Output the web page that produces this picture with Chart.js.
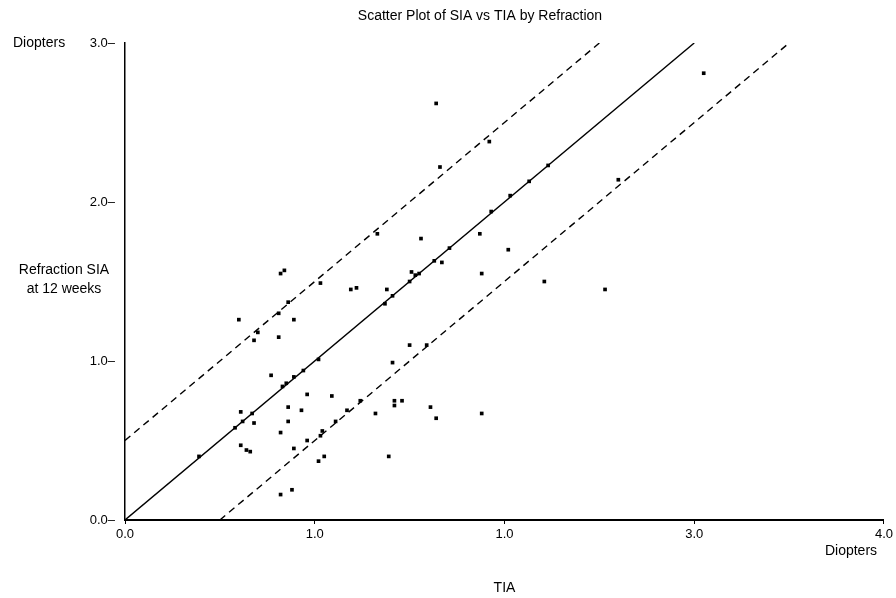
<!DOCTYPE html>
<html>
<head>
<meta charset="utf-8">
<title>Scatter Plot of SIA vs TIA by Refraction</title>
<script src="https://cdn.jsdelivr.net/npm/chart.js@4.4.1/dist/chart.umd.min.js"></script>
<style>
    html, body { margin: 0; padding: 0; background: #fff; }
    canvas { display: block; }
</style>
</head>
<body>
<canvas id="siaChart" width="896" height="598"></canvas>
<script>
/* ================================
   Data
================================ */
const tiaValues = [
    0.39, 0.60, 0.61, 0.62, 0.67, 0.68, 0.58, 0.61, 0.64, 0.66,
    0.68, 0.70, 0.77, 0.81, 0.81, 0.82, 0.84, 0.86, 0.89,
    0.83, 0.85, 0.89, 0.94, 1.02,
    0.86, 0.96, 1.09, 0.93, 0.86, 0.82, 0.89, 0.96, 1.04, 1.03,
    1.11, 1.17, 1.24, 1.05, 1.02, 0.82, 0.88,
    1.03, 1.19, 1.22, 1.41, 1.32, 1.42, 1.42, 1.46, 1.61, 1.64, 1.39,
    1.33, 1.56, 1.87, 1.93, 2.02, 1.71, 1.63, 1.67, 1.51, 1.53, 1.55,
    1.50, 1.38, 1.41, 1.37, 1.88, 2.21, 1.50, 1.59,
    1.64, 1.92, 1.66, 2.23, 2.13, 2.03, 2.60, 1.88, 2.53, 3.05
];
const siaValues = [
    0.40, 1.26, 0.68, 0.62, 0.67, 0.61, 0.58, 0.47, 0.44, 0.43,
    1.13, 1.18, 0.91, 1.30, 1.15, 1.55, 1.57, 1.37, 1.26,
    0.84, 0.86, 0.90, 0.94, 1.01,
    0.71, 0.79, 0.78, 0.69, 0.62, 0.55, 0.45, 0.50, 0.56, 0.53,
    0.62, 0.69, 0.75, 0.40, 0.37, 0.16, 0.19,
    1.49, 1.45, 1.46, 0.99, 0.67, 0.75, 0.72, 0.75, 0.71, 0.64, 0.40,
    1.80, 1.77, 1.80, 1.94, 1.70, 1.71, 1.63, 1.62, 1.56, 1.54, 1.55,
    1.50, 1.45, 1.41, 1.36, 1.55, 1.50, 1.10, 1.10,
    2.62, 2.38, 2.22, 2.23, 2.13, 2.04, 2.14, 0.67, 1.45, 2.81
];

// identity line and the +/- 0.5 D limits
const identityX = [0, 3];
const identityY = [0, 3];
const upperLimitX = [0, 2.5];
const upperLimitY = [0.5, 3];
const lowerLimitX = [0.5, 3.5];
const lowerLimitY = [0, 3];

const xTickLabels = ["0.0", "1.0", "1.0", "3.0", "4.0"];
const yTickLabels = ["0.0–", "1.0–", "2.0–", "3.0–"];

const chartTitle = "Scatter Plot of SIA vs TIA by Refraction";
const xUnitLabel = "Diopters";
const xAxisName = "TIA";
const yUnitLabel = "Diopters";
const yAxisName = ["Refraction SIA", "at 12 weeks"];

/* ================================
   Helpers
================================ */
function toPoints(xs, ys) {
    return xs.map((x, i) => ({ x: x, y: ys[i] }));
}

const FONT_FAMILY = "'Liberation Sans', Arial, Helvetica, sans-serif";

/* ================================
   Free text around the plot
================================ */
const labelPlugin = {
    id: "labelPlugin",
    afterDraw(chart) {
        const ctx = chart.ctx;
        const area = chart.chartArea;

        ctx.save();
        ctx.fillStyle = "#000";
        ctx.font = "14px " + FONT_FAMILY;
        ctx.textBaseline = "middle";

        ctx.textAlign = "center";
        ctx.fillText(chartTitle, 480, 16);

        ctx.textAlign = "left";
        ctx.fillText(yUnitLabel, 13, area.top);

        ctx.textAlign = "center";
        ctx.fillText(yAxisName[0], 64, 270);
        ctx.fillText(yAxisName[1], 64, 289);

        ctx.fillText(xUnitLabel, 851, 551);
        ctx.fillText(xAxisName, (area.left + area.right) / 2, 588);
        ctx.restore();
    }
};

/* ================================
   Chart
================================ */
function renderChart() {
    const ctx = document.getElementById("siaChart");

    const lineStyle = {
        type: "line",
        showLine: true,
        borderColor: "#000",
        borderWidth: 1.4,
        pointRadius: 0,
        fill: false,
        tension: 0
    };

    new Chart(ctx, {
        type: "scatter",
        data: {
            datasets: [
                {
                    label: "Eyes",
                    data: toPoints(tiaValues, siaValues),
                    pointStyle: "rect",
                    pointRadius: 2.6,
                    pointBorderWidth: 0,
                    backgroundColor: "#000",
                    borderColor: "#000"
                },
                Object.assign({ label: "SIA = TIA", data: toPoints(identityX, identityY) }, lineStyle),
                Object.assign({ label: "+0.5 D", data: toPoints(upperLimitX, upperLimitY), borderDash: [7, 5] }, lineStyle),
                Object.assign({ label: "-0.5 D", data: toPoints(lowerLimitX, lowerLimitY), borderDash: [7, 5] }, lineStyle)
            ]
        },
        options: {
            responsive: false,
            animation: false,
            layout: { padding: { left: 0, right: 11, top: 43, bottom: 0 } },
            plugins: {
                legend: { display: false },
                title: { display: false },
                tooltip: { enabled: false }
            },
            scales: {
                x: {
                    type: "linear",
                    min: 0,
                    max: 4,
                    afterFit: scale => { scale.height = 78; },
                    ticks: {
                        stepSize: 1,
                        color: "#000",
                        padding: 3,
                        font: { family: FONT_FAMILY, size: 13 },
                        callback: (value, index) => xTickLabels[index]
                    },
                    grid: {
                        drawOnChartArea: false,
                        drawTicks: true,
                        tickLength: 4,
                        color: "#000"
                    },
                    border: { display: true, color: "#000", width: 2 }
                },
                y: {
                    type: "linear",
                    min: 0,
                    max: 3,
                    afterFit: scale => { scale.width = 125; },
                    ticks: {
                        stepSize: 1,
                        color: "#000",
                        padding: 2,
                        font: { family: FONT_FAMILY, size: 13 },
                        callback: (value, index) => yTickLabels[index]
                    },
                    grid: { display: false },
                    border: { display: true, color: "#000", width: 1.5 }
                }
            }
        },
        plugins: [labelPlugin]
    });
}

document.addEventListener("DOMContentLoaded", renderChart);
</script>
</body>
</html>
